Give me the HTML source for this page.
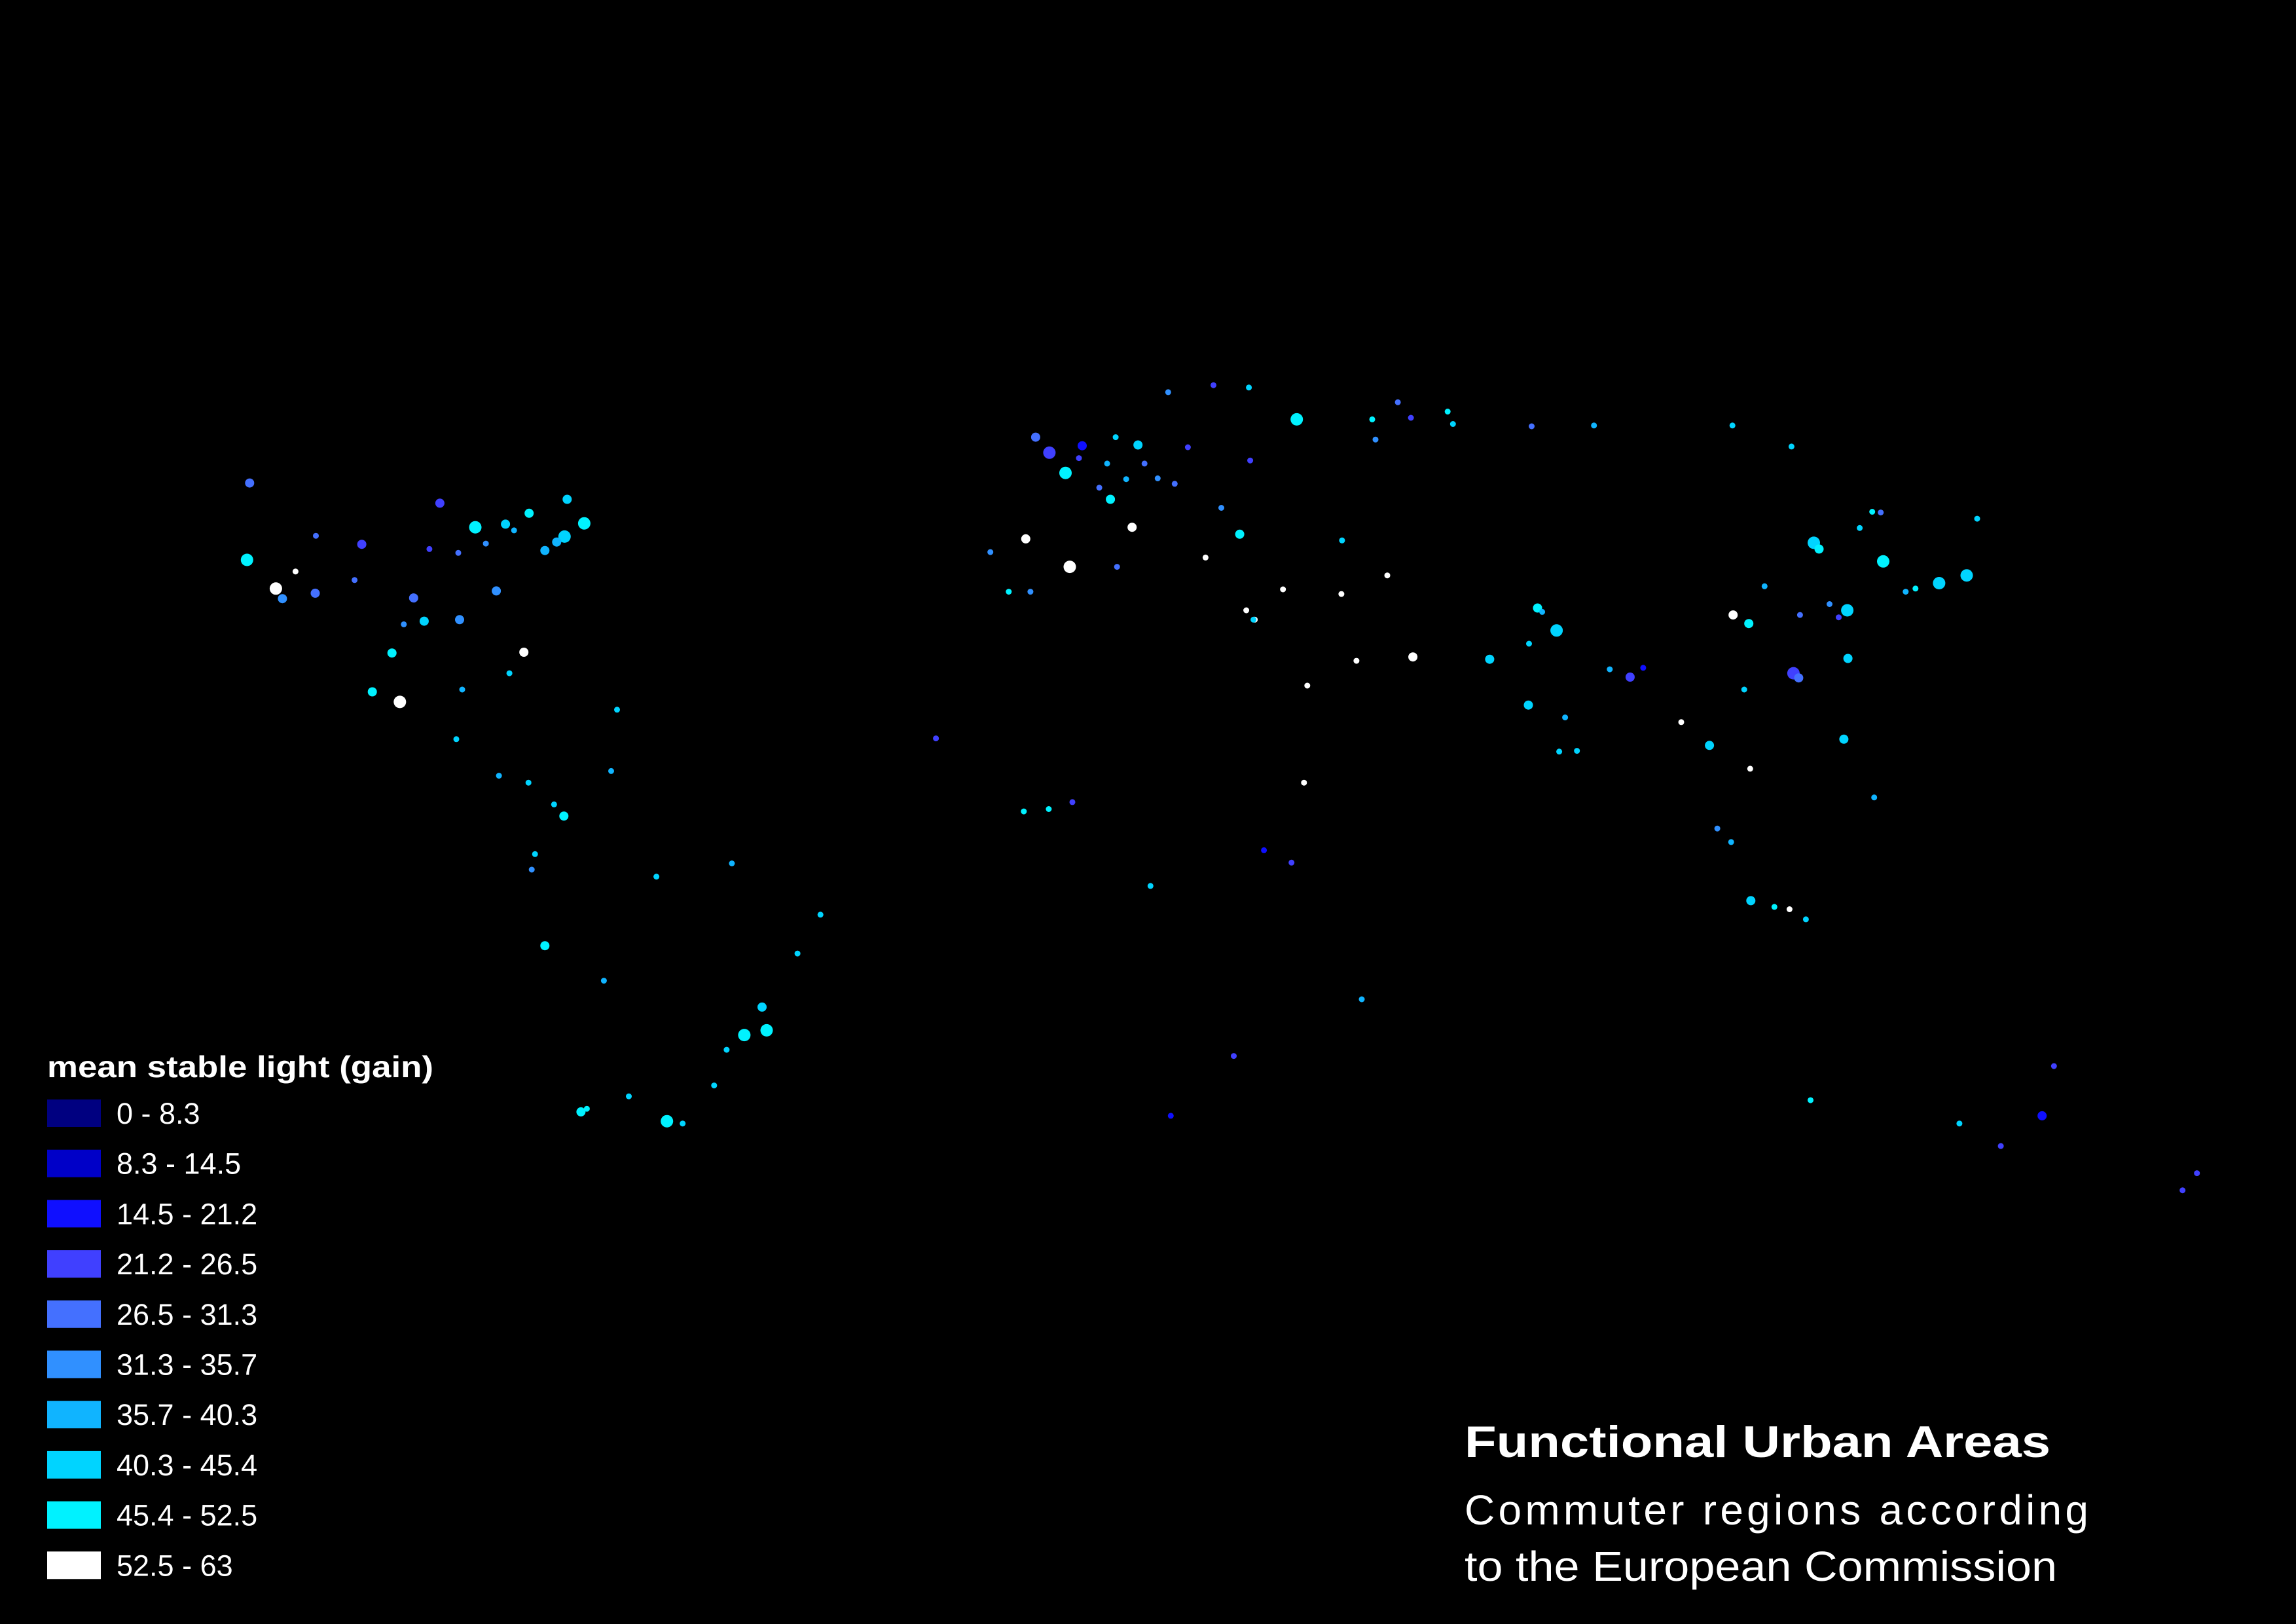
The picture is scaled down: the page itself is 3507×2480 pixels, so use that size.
<!DOCTYPE html>
<html><head><meta charset="utf-8"><style>
html,body{margin:0;padding:0;background:#000;}
svg{display:block}
</style></head><body>
<svg id="map" width="3507" height="2480" viewBox="0 0 3507 2480" xmlns="http://www.w3.org/2000/svg">
<rect width="3507" height="2480" fill="#000"/>
<g id="cities"></g>
<g id="legend">
<text x="72" y="1645" fill="#fff" font-family="Liberation Sans, sans-serif" font-weight="bold" font-size="46" textLength="590" lengthAdjust="spacingAndGlyphs">mean stable light (gain)</text>
</g>
<g font-family="Liberation Sans, sans-serif" fill="#fff">
<text x="2237" y="2225" font-weight="bold" font-size="68" textLength="895" lengthAdjust="spacingAndGlyphs">Functional Urban Areas</text>
<text x="2237" y="2328" font-size="64" textLength="953" lengthAdjust="spacing">Commuter regions according</text>
<text x="2237" y="2414" font-size="64" textLength="905" lengthAdjust="spacingAndGlyphs">to the European Commission</text>
</g>
</svg>
<script>
const classLabels=["0 - 8.3","8.3 - 14.5","14.5 - 21.2","21.2 - 26.5","26.5 - 31.3","31.3 - 35.7","35.7 - 40.3","40.3 - 45.4","45.4 - 52.5","52.5 - 63"];
const classColors=["#000080","#0000c8","#0f0fff","#4040ff","#4470ff","#3090ff","#10b4ff","#00d4ff","#00f2ff","#ffffff"];
const cityLon=[-122,-118,-122.4,-117,-112,-104.9,-97,-95.4,-90,-87.6,-84.4,-80.2,-74,-71,-77,-75.2,-83,-79.4,-73.6,-93,-81.7,-86,-90.2,-94.6,-111.9,-115,-106,-98.5,-99.1,-103.3,-100.3,-89.6,-82.4,-66,-90.5,-84,-79.5,-74.1,-75.6,-66.9,-78.5,-79,-77,-71.5,-68,-58.4,-56,-64.2,-70.6,-46.6,-43.2,-43.9,-49.3,-51.2,-38.5,-35,-48.5,-60,-0.1,2.35,-3.7,-9.1,-2.2,4.9,4.4,8.7,13.4,11.6,16.4,14.4,21,19,12.5,9.2,7.5,10,18,24.9,30.3,37.6,30.5,26.1,28.9,23.7,44.5,49.1,49.6,53,55,60.6,61.4,73.4,82.9,104,113,131.9,-6.3,-3,10.2,3,31.2,29.9,39.2,46.7,51.4,55.3,44.4,35.5,67,74.3,77.2,72.9,88.4,80.3,77.6,78.5,85.3,90.4,73,75,121.5,116.4,117.2,113.3,114.1,104.1,106.5,108.9,114.3,120.2,118.8,126.6,123.4,125.3,139.7,135.5,130.4,141.3,126.98,121.6,100.5,106.7,105.8,96.2,101.7,103.8,106.8,112.7,110.4,120.98,115.2,125.6,151.2,144.9,153,138.6,115.9,174.8,172.6,3.4,36.8,28,18.4,32.6,-17.4,-0.2,15.3,38.7,47.5,-4,31];
const cityLat=[47.6,34,37.7,32.7,33.4,39.7,32.8,29.8,30,41.9,33.7,25.8,40.7,42.4,38.9,40,42.3,43.7,45.5,45,41.5,39.8,38.6,39.1,40.8,36.2,35.1,29.4,19.4,20.7,25.7,21,23.1,18.4,14.6,9.9,9,4.7,6.2,10.5,-0.2,-2.2,-12,-33.4,-16.5,-34.6,-34.9,-31.4,-33,-23.5,-22.9,-19.9,-25.4,-30,-13,-8,-1.4,-3.1,51.5,48.9,40.4,38.7,53.5,52.4,50.8,50.1,52.5,48.1,48.2,50.1,52.2,47.5,41.9,45.5,47,53.5,59.3,60.2,59.9,55.8,50.5,44.4,41,38,40.2,55.8,53.2,58,56,56.8,55.2,54.9,55,55,52.3,34,33.6,33.6,36.8,36.8,30,31.2,21.5,24.7,35.7,25.2,33.3,33.9,24.9,31.5,28.6,19,22.6,13.1,13,17.4,23.6,23.8,26.9,31,31.2,39.9,39.1,23.1,22.5,30.6,29.5,34.3,30.6,30.3,32,43.8,41.8,43.9,35.7,34.7,33.6,43,37.5,25,13.8,10.8,21,16.8,3.1,1.35,-6.2,-7.3,-7,14.6,-8.6,7.1,-33.9,-37.8,-27.5,-34.9,-31.9,-41.3,-43.5,6.5,-1.3,-26.2,-33.9,0.3,14.7,5.6,-4.3,9,-18.9,5.3,30];
const cityClass=[4,9,8,5,4,3,4,7,5,8,5,9,7,8,6,6,7,8,7,3,6,5,4,3,4,9,4,5,9,8,8,6,7,7,7,6,7,8,7,6,7,5,8,8,6,8,7,7,8,8,8,7,7,7,7,7,6,7,3,8,9,5,4,2,3,6,7,6,5,4,3,4,9,8,4,7,5,3,7,8,3,5,8,9,7,8,5,4,3,8,7,4,6,7,7,8,8,5,4,9,9,9,9,9,9,9,9,9,7,8,7,7,3,7,7,6,6,2,7,6,7,7,8,3,4,9,8,6,4,3,5,4,7,8,7,7,6,7,8,7,7,9,7,9,5,6,7,9,8,7,7,6,2,3,3,7,8,3,3,3,3,3,2,2,3,8,7,9,6,8,7,7,9,7];
const citySize=[2,3,3,2,2,2,2,2,2,3,2,2,3,3,2,2,2,2,2,2,1,1,1,1,1,1,1,1,3,2,2,1,1,1,1,1,1,2,1,1,1,1,2,2,1,3,1,1,1,3,3,2,1,1,1,1,1,1,3,3,2,1,2,2,1,1,2,1,1,1,1,1,2,2,1,1,1,1,1,3,1,1,2,1,1,1,1,1,1,1,1,1,1,1,1,1,1,1,1,3,1,1,1,1,1,2,1,1,2,2,3,2,2,1,1,1,1,1,1,1,3,3,2,3,2,2,2,1,1,1,1,1,1,1,3,3,1,1,3,2,2,1,1,1,1,1,2,1,1,2,1,1,2,1,1,1,1,1,1,1,1,1,1,1,1,1,1,1,1,1,1];
const legendClasses=[0,1,2,3,4,5,6,7,8,9];

const NS="http://www.w3.org/2000/svg";
function xScale(lon){return 2.237*(717+4.48*lon);}
function yScale(lat){return 2.237*(582-5.3*lat);}
const g=document.getElementById('cities');
for(let i=0;i<cityLon.length;i++){
  const c=document.createElementNS(NS,'circle');
  c.setAttribute('cx',xScale(cityLon[i]).toFixed(1));
  c.setAttribute('cy',yScale(cityLat[i]).toFixed(1));
  c.setAttribute('r',2+citySize[i]*2.5);
  c.setAttribute('fill',classColors[cityClass[i]]);
  
  
  g.appendChild(c);
}
const lg=document.getElementById('legend');
legendClasses.forEach((k,i)=>{
  const y=1679+i*76.7;
  const r=document.createElementNS(NS,'rect');
  r.setAttribute('x',72);r.setAttribute('y',y);r.setAttribute('width',82);r.setAttribute('height',42);
  r.setAttribute('fill',classColors[k]);
  
  
  lg.appendChild(r);
  const t=document.createElementNS(NS,'text');
  t.setAttribute('x',178);t.setAttribute('y',y+37);
  t.setAttribute('fill','#fff');t.setAttribute('font-size','45');
  t.setAttribute('font-family','Liberation Sans, sans-serif');
  t.textContent=classLabels[k];
  
  
  lg.appendChild(t);
});
</script>
</body></html>
